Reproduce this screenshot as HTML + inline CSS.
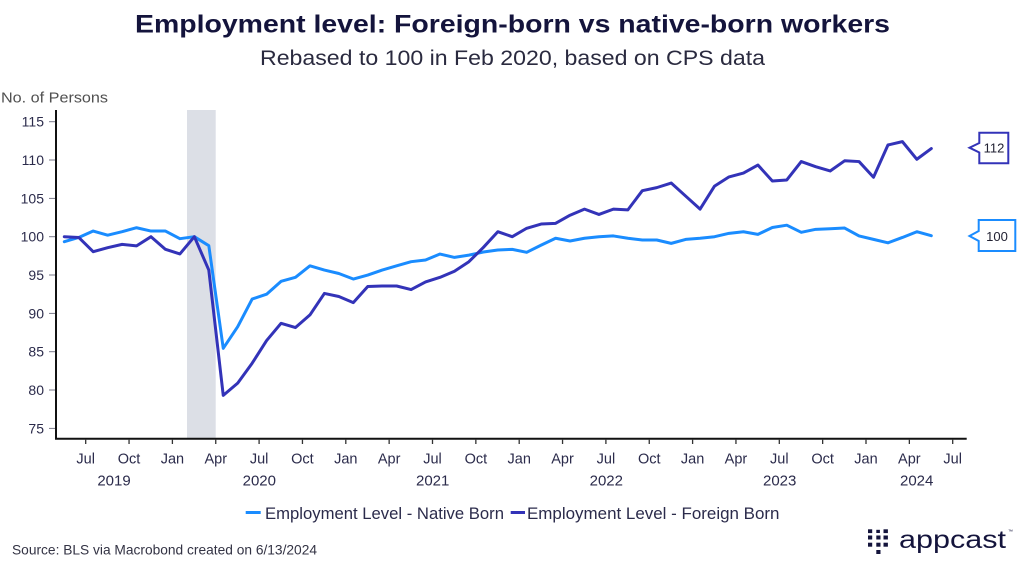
<!DOCTYPE html>
<html>
<head>
<meta charset="utf-8">
<style>
  html, body { margin:0; padding:0; background:#ffffff; }
  body { width:1024px; height:570px; overflow:hidden; }
  svg { display:block; font-family:"Liberation Sans", "DejaVu Sans", sans-serif; }
</style>
</head>
<body>
<svg width="1024" height="570" viewBox="0 0 1024 570" xmlns="http://www.w3.org/2000/svg">
  <rect x="0" y="0" width="1024" height="570" fill="#ffffff"/>

  <!-- Title -->
  <text x="135" y="32.5" font-size="25" font-weight="bold" fill="#14143c" textLength="755" lengthAdjust="spacingAndGlyphs">Employment level: Foreign-born vs native-born workers</text>
  <text x="260" y="65" font-size="21" fill="#2a2a3f" textLength="505" lengthAdjust="spacingAndGlyphs">Rebased to 100 in Feb 2020, based on CPS data</text>

  <!-- Y-axis title -->
  <text x="1" y="102.7" font-size="15" fill="#505050" textLength="107" lengthAdjust="spacingAndGlyphs">No. of Persons</text>

  <!-- Recession band -->
  <rect x="187" y="110" width="28.7" height="328.5" fill="#dcdfe6"/>

  <!-- Y ticks & labels -->
  <g stroke="#7a7a8a" stroke-width="1">
    <line x1="49" y1="121.7" x2="56" y2="121.7"/>
    <line x1="49" y1="160.0" x2="56" y2="160.0"/>
    <line x1="49" y1="198.4" x2="56" y2="198.4"/>
    <line x1="49" y1="236.7" x2="56" y2="236.7"/>
    <line x1="49" y1="275.0" x2="56" y2="275.0"/>
    <line x1="49" y1="313.4" x2="56" y2="313.4"/>
    <line x1="49" y1="351.7" x2="56" y2="351.7"/>
    <line x1="49" y1="390.0" x2="56" y2="390.0"/>
    <line x1="49" y1="428.4" x2="56" y2="428.4"/>
  </g>
  <g font-size="14" fill="#2b2b4b" text-anchor="end">
    <text x="44" y="126.7">115</text>
    <text x="44" y="165.0">110</text>
    <text x="44" y="203.4">105</text>
    <text x="44" y="241.7">100</text>
    <text x="44" y="280.0">95</text>
    <text x="44" y="318.4">90</text>
    <text x="44" y="356.7">85</text>
    <text x="44" y="395.0">80</text>
    <text x="44" y="433.4">75</text>
  </g>

  <!-- Series -->
  <g transform="matrix(14.45,0,0,-7.667,64.3,1003.4)" fill="none" stroke-linejoin="round" stroke-linecap="round">
    <polyline vector-effect="non-scaling-stroke" stroke="#1a8cff" stroke-width="3"
      points="0,99.35 1,99.9 2,100.74 3,100.2 4,100.65 5,101.17 6,100.74 7,100.74 8,99.74 9,100 10,98.83 11,85.44 12,88.26 13,91.87 14,92.5 15,94.18 16,94.7 17,96.2 18,95.65 19,95.2 20,94.48 21,95.0 22,95.65 23,96.2 24,96.74 25,96.96 26,97.74 27,97.3 28,97.6 29,98.0 30,98.26 31,98.35 32,97.96 33,98.9 34,99.8 35,99.44 36,99.8 37,100 38,100.1 39,99.8 40,99.57 41,99.57 42,99.13 43,99.65 44,99.8 45,100 46,100.44 47,100.65 48,100.3 49,101.2 50,101.5 51,100.57 52,100.96 53,101.04 54,101.13 55,100.1 56,99.65 57,99.2 58,99.9 59,100.65 60,100.13"/>
    <polyline vector-effect="non-scaling-stroke" stroke="#3333b8" stroke-width="3"
      points="0,100 1,99.9 2,98.04 3,98.57 4,99.0 5,98.8 6,100 7,98.35 8,97.75 9,100 10,95.65 11,79.3 12,80.9 13,83.5 14,86.45 15,88.7 16,88.15 17,89.8 18,92.6 19,92.2 20,91.4 21,93.5 22,93.57 23,93.57 24,93.1 25,94.1 26,94.7 27,95.5 28,96.74 29,98.6 30,100.65 31,100 32,101.1 33,101.65 34,101.74 35,102.8 36,103.6 37,102.9 38,103.6 39,103.5 40,106.0 41,106.4 42,107.0 43,105.3 44,103.6 45,106.6 46,107.8 47,108.3 48,109.35 49,107.26 50,107.4 51,109.8 52,109.13 53,108.57 54,109.9 55,109.8 56,107.75 57,111.96 58,112.4 59,110.1 60,111.5"/>
  </g>

  <!-- Axes -->
  <line x1="56" y1="110" x2="56" y2="439.5" stroke="#111111" stroke-width="2"/>
  <line x1="55" y1="438.7" x2="966.7" y2="438.7" stroke="#111111" stroke-width="2"/>

  <!-- X ticks -->
  <g stroke="#333333" stroke-width="1.3">
    <line x1="85.7" y1="439" x2="85.7" y2="444"/>
    <line x1="129.05" y1="439" x2="129.05" y2="444"/>
    <line x1="172.4" y1="439" x2="172.4" y2="444"/>
    <line x1="215.75" y1="439" x2="215.75" y2="444"/>
    <line x1="259.1" y1="439" x2="259.1" y2="444"/>
    <line x1="302.45" y1="439" x2="302.45" y2="444"/>
    <line x1="345.8" y1="439" x2="345.8" y2="444"/>
    <line x1="389.15" y1="439" x2="389.15" y2="444"/>
    <line x1="432.5" y1="439" x2="432.5" y2="444"/>
    <line x1="475.85" y1="439" x2="475.85" y2="444"/>
    <line x1="519.2" y1="439" x2="519.2" y2="444"/>
    <line x1="562.55" y1="439" x2="562.55" y2="444"/>
    <line x1="605.9" y1="439" x2="605.9" y2="444"/>
    <line x1="649.25" y1="439" x2="649.25" y2="444"/>
    <line x1="692.6" y1="439" x2="692.6" y2="444"/>
    <line x1="735.95" y1="439" x2="735.95" y2="444"/>
    <line x1="779.3" y1="439" x2="779.3" y2="444"/>
    <line x1="822.65" y1="439" x2="822.65" y2="444"/>
    <line x1="866.0" y1="439" x2="866.0" y2="444"/>
    <line x1="909.35" y1="439" x2="909.35" y2="444"/>
    <line x1="952.7" y1="439" x2="952.7" y2="444"/>
  </g>
  <g font-size="14.5" fill="#2b2b4b" text-anchor="middle">
    <text x="85.7" y="463.5">Jul</text>
    <text x="129.05" y="463.5">Oct</text>
    <text x="172.4" y="463.5">Jan</text>
    <text x="215.75" y="463.5">Apr</text>
    <text x="259.1" y="463.5">Jul</text>
    <text x="302.45" y="463.5">Oct</text>
    <text x="345.8" y="463.5">Jan</text>
    <text x="389.15" y="463.5">Apr</text>
    <text x="432.5" y="463.5">Jul</text>
    <text x="475.85" y="463.5">Oct</text>
    <text x="519.2" y="463.5">Jan</text>
    <text x="562.55" y="463.5">Apr</text>
    <text x="605.9" y="463.5">Jul</text>
    <text x="649.25" y="463.5">Oct</text>
    <text x="692.6" y="463.5">Jan</text>
    <text x="735.95" y="463.5">Apr</text>
    <text x="779.3" y="463.5">Jul</text>
    <text x="822.65" y="463.5">Oct</text>
    <text x="866.0" y="463.5">Jan</text>
    <text x="909.35" y="463.5">Apr</text>
    <text x="952.7" y="463.5">Jul</text>
  </g>
  <g font-size="15" fill="#2b2b4b" text-anchor="middle">
    <text x="114" y="485.5">2019</text>
    <text x="259.3" y="485.5">2020</text>
    <text x="432.7" y="485.5">2021</text>
    <text x="606.3" y="485.5">2022</text>
    <text x="779.7" y="485.5">2023</text>
    <text x="916.7" y="485.5">2024</text>
  </g>

  <!-- Callouts -->
  <path d="M979.3,132.7 H1008.3 V163.3 H979.3 V152.5 L969.5,147.7 L979.3,143 Z" fill="#ffffff" stroke="#3333b8" stroke-width="2" stroke-linejoin="miter"/>
  <text x="994" y="152.5" font-size="13" fill="#222233" text-anchor="middle">112</text>
  <path d="M978.7,220 H1015.3 V251 H978.7 V241 L969.5,236 L978.7,231 Z" fill="#ffffff" stroke="#1a8cff" stroke-width="2" stroke-linejoin="miter"/>
  <text x="997" y="241" font-size="13" fill="#222233" text-anchor="middle">100</text>

  <!-- Legend -->
  <line x1="245.7" y1="512.5" x2="260.7" y2="512.5" stroke="#1a8cff" stroke-width="3"/>
  <text x="265" y="519" font-size="17" fill="#2b2b4b" textLength="239" lengthAdjust="spacingAndGlyphs">Employment Level - Native Born</text>
  <line x1="510.7" y1="512.5" x2="525" y2="512.5" stroke="#3333b8" stroke-width="3"/>
  <text x="527" y="519" font-size="17" fill="#2b2b4b" textLength="252.5" lengthAdjust="spacingAndGlyphs">Employment Level - Foreign Born</text>

  <!-- Source -->
  <text x="12" y="554.3" font-size="14" fill="#333344" textLength="305" lengthAdjust="spacingAndGlyphs">Source: BLS via Macrobond created on 6/13/2024</text>

  <!-- appcast logo -->
  <g fill="#14143c">
    <rect x="868" y="529.3" width="4.2" height="3.8"/>
    <rect x="876.3" y="529.8" width="3.6" height="3.2"/>
    <rect x="883.5" y="529.3" width="4.4" height="3.8"/>
    <rect x="868" y="535.5" width="4.2" height="4"/>
    <rect x="876.3" y="535.5" width="4.2" height="4"/>
    <rect x="883.5" y="535.5" width="4.4" height="4"/>
    <rect x="868" y="542.7" width="4.2" height="4"/>
    <rect x="876.3" y="542.7" width="4.2" height="4"/>
    <rect x="883.5" y="542.7" width="4.4" height="4"/>
    <rect x="876.3" y="550" width="4.2" height="4"/>
  </g>
  <text x="899" y="548" font-size="25" fill="#14143c" textLength="107" lengthAdjust="spacingAndGlyphs">appcast</text>
  <text x="1008" y="533" font-size="5" fill="#14143c">™</text>
</svg>
</body>
</html>
